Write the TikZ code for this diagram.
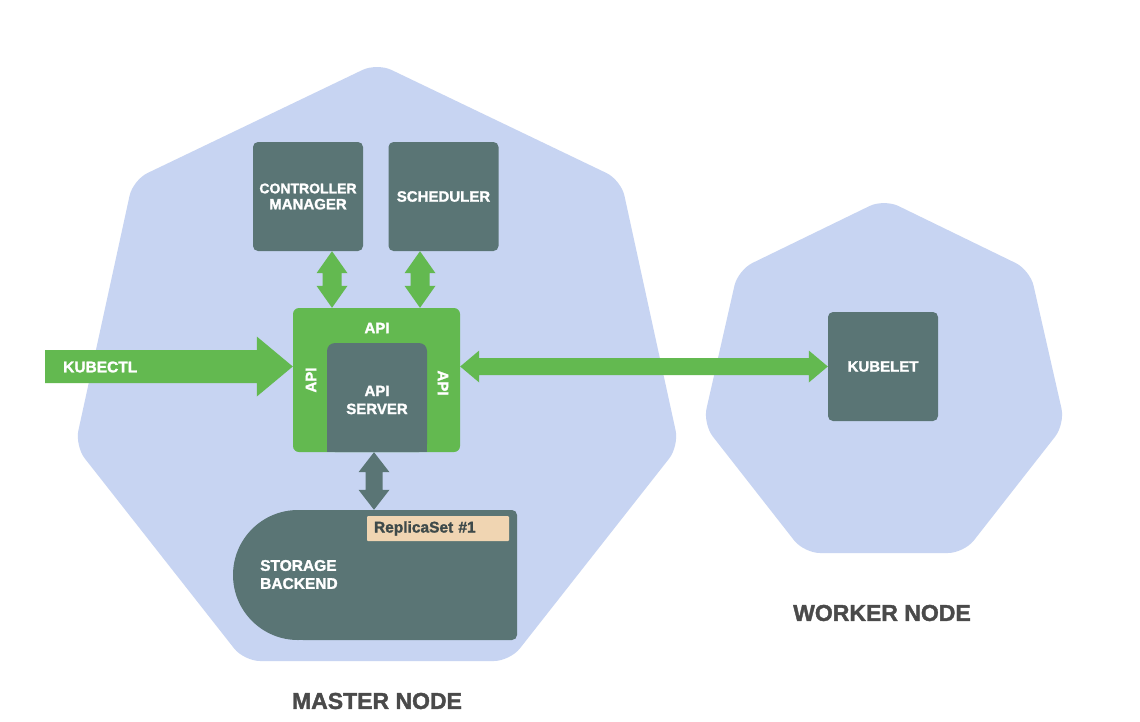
\documentclass[tikz,border=0pt]{standalone}
\usepackage{fontspec}
\setmainfont{Liberation Sans}[BoldFeatures={FakeBold=1.6}]
\usetikzlibrary{calc}
\definecolor{lav}{RGB}{199,212,242}
\definecolor{slate}{RGB}{90,117,117}
\definecolor{kgreen}{RGB}{99,185,80}
\definecolor{tanbox}{RGB}{240,213,178}
\definecolor{titlegray}{RGB}{74,74,74}
\definecolor{rstext}{RGB}{62,74,74}
% vertical double block arrow: #1 top, #2 bottom, #3 shaft half, #4 head half, #5 head length, #6 colour
\newcommand\vdblarrow[6]{%
  \fill[#6] let \p1=(#1), \p2=(#2) in
    (\x1,\y1) -- (\x1+#4,\y1-#5) -- (\x1+#3,\y1-#5) -- (\x1+#3,\y2+#5) -- (\x1+#4,\y2+#5)
    -- (\x1,\y2) -- (\x1-#4,\y2+#5) -- (\x1-#3,\y2+#5) -- (\x1-#3,\y1-#5) -- (\x1-#4,\y1-#5) -- cycle;}
% horizontal double block arrow: #1 left tip, #2 right tip
\newcommand\hdblarrow[6]{%
  \fill[#6] let \p1=(#1), \p2=(#2) in
    (\x1,\y1) -- (\x1+#5,\y1+#4) -- (\x1+#5,\y1+#3) -- (\x2-#5,\y1+#3) -- (\x2-#5,\y1+#4)
    -- (\x2,\y1) -- (\x2-#5,\y1-#4) -- (\x2-#5,\y1-#3) -- (\x1+#5,\y1-#3) -- (\x1+#5,\y1-#4) -- cycle;}
% single right block arrow: #1 tail, #2 tip
\newcommand\hsglarrow[6]{%
  \fill[#6] let \p1=(#1), \p2=(#2) in
    (\x1,\y1+#3) -- (\x2-#5,\y1+#3) -- (\x2-#5,\y1+#4) -- (\x2,\y1)
    -- (\x2-#5,\y1-#4) -- (\x2-#5,\y1-#3) -- (\x1,\y1-#3) -- cycle;}
\begin{document}
\begin{tikzpicture}[x=1pt,y=-1pt,
  lbl/.style={text=white,font=\fontsize{15}{17}\selectfont\bfseries,align=center,inner sep=0pt},
  compbox/.style={fill=slate,rounded corners=5pt,minimum width=110pt,minimum height=109pt,
    text=white,font=\fontsize{15}{17}\selectfont\bfseries,align=center,inner sep=0pt},
  hept/.style={fill=lav,rounded corners=16pt},
  title/.style={text=titlegray,font=\fontsize{23}{26}\selectfont\bfseries,inner sep=0pt}]
\useasboundingbox (0,0) rectangle (1140,721);
\fill[white] (0,0) rectangle (1140,721);
% heptagons
\fill[hept] (377,63) -- (621,180) -- (679,446) -- (510,661) -- (244,661) -- (75,446) -- (133,180) -- cycle;
\fill[hept] (884,199) -- (1030,270) -- (1065,424) -- (964,553) -- (804,553) -- (703,424) -- (738,270) -- cycle;
% components
\node[compbox] (cm) at (308,196.5) {\fontsize{14}{16}\selectfont CONTROLLER\\[-1pt]MANAGER};
\node[compbox] (sched) at (443.5,196.5) {\raisebox{-2.5pt}{SCHEDULER}};
\node[compbox] (kubelet) at (883,366.5) {\raisebox{-2.5pt}{KUBELET}};
% API server
\node[fill=kgreen,rounded corners=6pt,minimum width=167pt,minimum height=144pt,inner sep=0pt] (apiouter) at (376.5,380) {};
\node[fill=slate,rounded corners=8pt,minimum width=100pt,minimum height=109pt,inner sep=0pt] (apisrv) at (377,397.5) {};
\fill[slate] (327,440) rectangle (427,452);
\node[lbl] (apisrvtext) at (377,400) {API\\[1pt]SERVER};
\node[lbl] (apitop) at (377,328) {API};
\node[lbl,rotate=90] (apileft) at (311,380) {API};
\node[lbl,rotate=-90] (apiright) at (443,383) {API};
% storage backend
\fill[slate] (298,575) circle[radius=65];
\node[fill=slate,rounded corners=5pt,minimum width=219pt,minimum height=130pt,inner sep=0pt] (stor) at (407.5,575) {};
\node[lbl,anchor=west,align=left,font=\fontsize{15.5}{17}\selectfont\bfseries] (stortext) at (260,574.5) {STORAGE\\[1pt]BACKEND};
\node[fill=tanbox,rounded corners=1pt,text width=128pt,inner xsep=7pt,inner ysep=0pt,minimum height=25pt,align=left,
  text=rstext,font=\fontsize{15.5}{17}\selectfont\bfseries] (rs) at (438,528.5) {ReplicaSet \#1};
% connectors
\coordinate (c1) at ($(cm.south)+(24,0)$);
\coordinate (s1) at ($(sched.south)+(-23.5,0)$);
\vdblarrow{c1}{c1 |- apiouter.north}{9.5pt}{15.5pt}{22pt}{kgreen}
\vdblarrow{s1}{s1 |- apiouter.north}{9.5pt}{15.5pt}{22pt}{kgreen}
\coordinate (st1) at ($(apisrv.south)+(-3,0)$);
\vdblarrow{st1}{st1 |- stor.north}{8.5pt}{15.5pt}{20pt}{slate}
\hdblarrow{kubelet.west -| apiouter.east}{kubelet.west}{8.5pt}{16pt}{19pt}{kgreen}
\coordinate (kt) at (45,366.5);
\hsglarrow{kt}{kt -| apiouter.west}{16.5pt}{30pt}{36pt}{kgreen}
\node[lbl,anchor=west,font=\fontsize{15.5}{17}\selectfont\bfseries] (kubectl) at (63,367) {KUBECTL};
% titles
\node[title] (master) at (377,701) {MASTER NODE};
\node[title] (worker) at (882,613) {WORKER NODE};
\end{tikzpicture}
\end{document}
